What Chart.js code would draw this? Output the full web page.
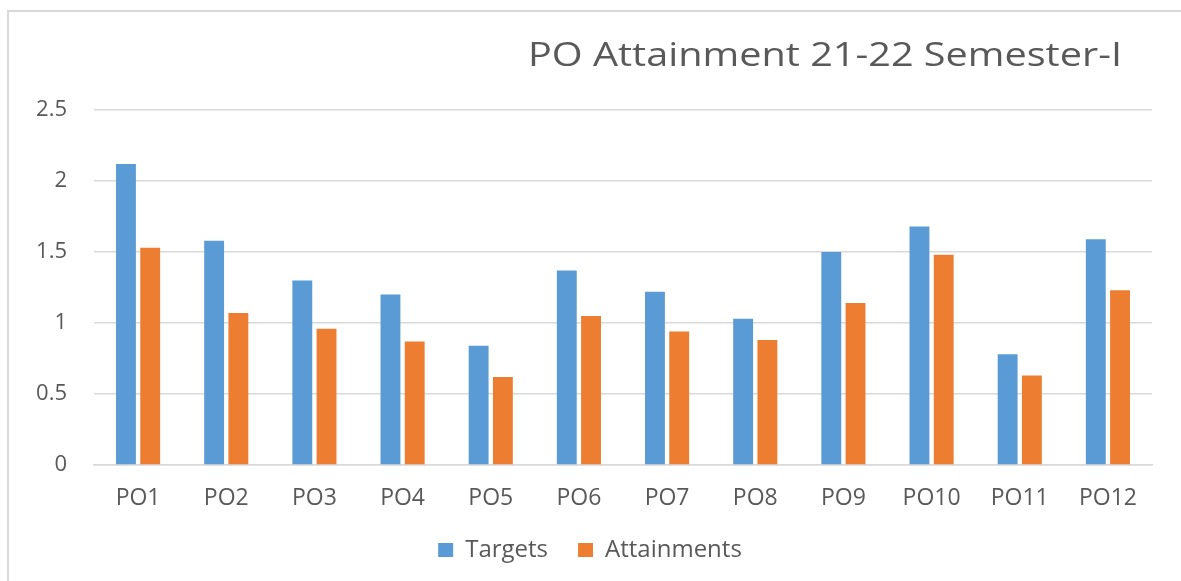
<!DOCTYPE html>
<html>
<head>
<meta charset="utf-8">
<script src="https://cdn.jsdelivr.net/npm/chart.js@4"></script>
<style>
  html, body { margin: 0; padding: 0; background: #fff; overflow: hidden; }
  #wrap { position: relative; width: 1181px; height: 581px; }
  #frame {
    position: absolute; left: 7px; top: 10px; width: 1300px; height: 700px;
    border-top: 2px solid #d9d9d9; border-left: 2px solid #d9d9d9;
    pointer-events: none;
  }
</style>
</head>
<body>
<div id="wrap">
  <canvas id="po-attainment" width="1181" height="581"></canvas>
  <div id="frame"></div>
</div>
<script>
const labelsPO = ['PO1', 'PO2', 'PO3', 'PO4', 'PO5', 'PO6', 'PO7', 'PO8', 'PO9', 'PO10', 'PO11', 'PO12']
const targetsPO = [2.12, 1.58, 1.30, 1.20, 0.84, 1.37, 1.22, 1.03, 1.50, 1.68, 0.78, 1.59]
const attainmentsPO = [1.53, 1.07, 0.96, 0.87, 0.62, 1.05, 0.94, 0.88, 1.14, 1.48, 0.63, 1.23]
const yTicksPO = [0, 0.5, 1, 1.5, 2, 2.5]

const TEXT_COLOR = '#595959'
const GRID_COLOR = '#d9d9d9'
const FONT = '"Open Sans", "Liberation Sans", sans-serif'
const TITLE_TEXT = 'PO Attainment 21-22 Semester-I'

// Title sits to the right of centre, so it is drawn by hand (slightly widened)
const titlePlugin = {
  id: 'rightTitle',
  afterDraw: chart => {
    const ctx = chart.ctx
    ctx.save()
    ctx.fillStyle = TEXT_COLOR
    ctx.font = '32px ' + FONT
    ctx.textBaseline = 'middle'
    ctx.textAlign = 'left'
    const w = ctx.measureText(TITLE_TEXT).width
    ctx.translate(528, 57)
    ctx.scale(594 / w, 1)
    ctx.fillText(TITLE_TEXT, 0, 0)
    ctx.restore()
  },
}

const ctxPO = document.getElementById('po-attainment').getContext('2d')
const dataPO = {
  labels: labelsPO,
  datasets: [
    {
      label: 'Targets',
      data: targetsPO,
      backgroundColor: '#5B9BD5',
      categoryPercentage: 0.55,
      barPercentage: 0.82,
    },
    {
      label: 'Attainments',
      data: attainmentsPO,
      backgroundColor: '#ED7D31',
      categoryPercentage: 0.55,
      barPercentage: 0.82,
    },
  ],
}

const configPO = {
  type: 'bar',
  data: dataPO,
  plugins: [titlePlugin],
  options: {
    responsive: false,
    animation: false,
    layout: {
      padding: { left: 28, right: 29, top: 110, bottom: 9 },
    },
    plugins: {
      title: { display: false },
      tooltip: { enabled: false },
      legend: {
        position: 'bottom',
        labels: {
          color: TEXT_COLOR,
          font: { family: FONT, size: 24 },
          boxWidth: 15,
          boxHeight: 14,
          padding: 30,
        },
      },
    },
    scales: {
      x: {
        grid: { display: false },
        border: { display: true, color: GRID_COLOR, width: 1.5 },
        afterFit: scale => {
          scale.height = 43
        },
        ticks: {
          color: TEXT_COLOR,
          font: { family: FONT, size: 23 },
          padding: 12,
          maxRotation: 0,
        },
      },
      y: {
        min: 0,
        max: 2.5,
        afterFit: scale => {
          scale.width = 66
        },
        afterBuildTicks: scale => {
          scale.ticks = yTicksPO.map(v => ({ value: v }))
        },
        border: { display: false },
        grid: { color: GRID_COLOR, lineWidth: 1.5, drawTicks: false },
        ticks: {
          color: TEXT_COLOR,
          font: { family: FONT, size: 22 },
          padding: 27,
          callback: value => String(value),
        },
      },
    },
  },
}

const chartPO = new Chart(ctxPO, configPO)
</script>
</body>
</html>
